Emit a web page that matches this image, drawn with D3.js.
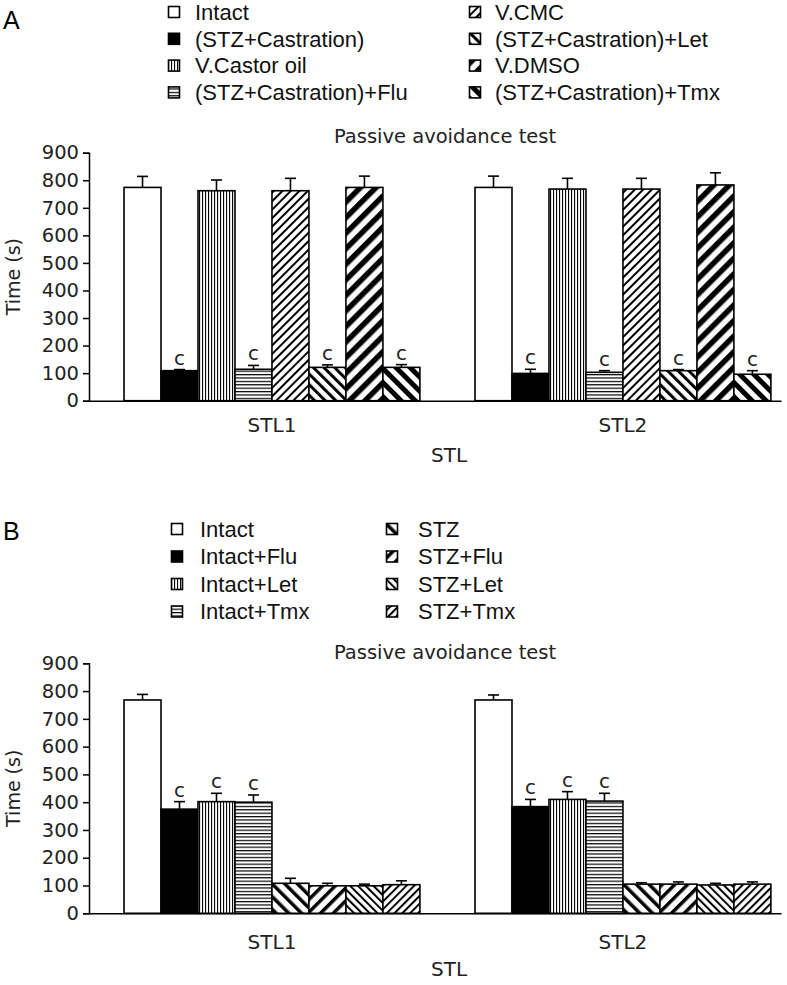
<!DOCTYPE html>
<html><head><meta charset="utf-8">
<script src="https://cdn.jsdelivr.net/npm/d3@7"></script>
<style>body{margin:0;background:#fff} svg{display:block}</style>
</head><body>
<svg id="chart" width="787" height="985"></svg>
<script>
// ---------------- DATA ----------------
const groups = ["STL1", "STL2"];
const yTicks = [0, 100, 200, 300, 400, 500, 600, 700, 800, 900];

const seriesA = ["Intact", "(STZ+Castration)", "V.Castor oil", "(STZ+Castration)+Flu",
                 "V.CMC", "(STZ+Castration)+Let", "V.DMSO", "(STZ+Castration)+Tmx"];
const meanA_STL1 = [774, 109, 762, 114, 762, 121, 774, 121];
const semA_STL1  = [40, 4, 39, 14, 45, 9, 41, 10];
const meanA_STL2 = [774, 99, 768, 103, 768, 109, 783, 96];
const semA_STL2  = [41, 15, 39, 6, 39, 4, 44, 13];
const sigA = ["", "c", "", "c", "", "c", "", "c"];

const seriesB = ["Intact", "Intact+Flu", "Intact+Let", "Intact+Tmx",
                 "STZ", "STZ+Flu", "STZ+Let", "STZ+Tmx"];
const meanB_STL1 = [768, 375, 402, 400, 108, 99, 99, 103];
const semB_STL1  = [20, 27, 30, 26, 18, 9, 6, 14];
const meanB_STL2 = [768, 384, 410, 404, 105, 105, 102, 105];
const semB_STL2  = [18, 26, 28, 28, 5, 8, 6, 8];
const sigB = ["", "c", "c", "c", "", "", "", ""];

// fill styles (kept separate from the data)
const fillsA = ["white", "black", "vert", "horiz", "upFine", "downMed", "upThick", "downThick"];
const fillsB = ["white", "black", "vert", "horiz", "downB", "upB", "downFineB", "upFineB"];

// ---------------- DRAW ----------------
const svg = d3.select("#chart");
svg.append("rect").attr("width", 787).attr("height", 985).attr("fill", "#fff");
const defs = svg.append("defs");

function stripe(id, period, lw, angle) {
  const p = defs.append("pattern").attr("id", id)
    .attr("patternUnits", "userSpaceOnUse")
    .attr("width", period).attr("height", period)
    .attr("patternTransform", `rotate(${angle})`);
  p.append("rect").attr("width", period).attr("height", period).attr("fill", "#fff");
  p.append("rect").attr("x", 0).attr("y", 0).attr("width", lw).attr("height", period).attr("fill", "#000");
}
stripe("vert", 3, 1.1, 0);
stripe("horiz", 3.4, 1.2, 90);
stripe("upFine", 6, 2, 45);
stripe("downMed", 7.5, 3, -45);
stripe("upThick", 11, 5.5, 45);
stripe("downThick", 10, 5, -45);
stripe("downB", 9, 3.5, -45);
stripe("upB", 9, 3.5, 45);
stripe("downFineB", 5.5, 2, -45);
stripe("upFineB", 5.5, 2, 45);

function fillOf(f) {
  if (f === "white") return "#fff";
  if (f === "black") return "#000";
  return `url(#${f})`;
}

const tickFont = "'DejaVu Sans', sans-serif";
const legFont = "'Liberation Sans', Arial, sans-serif";

function drawPanel(o) {
  const g = svg.append("g");
  const y = d3.scaleLinear().domain([0, 900]).range([o.y0, o.y900]);
  const x0 = d3.scaleBand().domain(groups).range([89, 781])
    .paddingInner(0.157).paddingOuter(0.0643).align(0.776);
  const x1 = d3.scaleBand().domain(o.series).range([0, x0.bandwidth()]);

  // panel letter
  g.append("text").attr("x", 3).attr("y", o.letterY).text(o.letter)
    .attr("font-family", legFont).attr("font-size", 25).attr("fill", "#000");

  // legend
  o.series.forEach((s, i) => {
    const col = i < 4 ? 0 : 1, row = i % 4;
    const cy = o.legY + row * o.legStep;
    g.append("rect").attr("x", o.legIconX[col] - 5.5).attr("y", cy - 5.5)
      .attr("width", 11).attr("height", 11)
      .attr("fill", fillOf(o.fills[i])).attr("stroke", "#000").attr("stroke-width", 1.6);
    g.append("text").attr("x", o.legTextX[col]).attr("y", cy + 7.8).text(s)
      .attr("font-family", legFont).attr("font-size", 22).attr("fill", "#111");
  });

  // title
  g.append("text").attr("x", 445).attr("y", o.titleY).attr("text-anchor", "middle")
    .text("Passive avoidance test").attr("font-family", tickFont).attr("font-size", 19.5).attr("fill", "#222");

  // y axis
  const ya = g.append("g").attr("transform", "translate(89,0)")
    .call(d3.axisLeft(y).tickValues(yTicks).tickSize(6).tickSizeOuter(6).tickPadding(4));
  ya.selectAll("path,line").attr("stroke", "#000").attr("stroke-width", 1.5);
  ya.selectAll("text").attr("font-family", tickFont).attr("font-size", 19.5).attr("fill", "#222");

  // y label
  g.append("text").attr("transform", `translate(20,${(o.y0 + o.y900) / 2}) rotate(-90)`)
    .attr("text-anchor", "middle").text("Time (s)")
    .attr("font-family", tickFont).attr("font-size", 19).attr("fill", "#222");

  // x axis
  const xa = g.append("g").attr("transform", `translate(0,${o.y0})`)
    .call(d3.axisBottom(x0).tickSize(0).tickSizeOuter(0).tickPadding(o.xPad));
  xa.select(".domain").attr("stroke", "#000").attr("stroke-width", 1.5);
  xa.selectAll("text").attr("font-family", tickFont).attr("font-size", 20).attr("fill", "#222");

  g.append("text").attr("x", 449).attr("y", o.stlY).attr("text-anchor", "middle").text("STL")
    .attr("font-family", tickFont).attr("font-size", 20).attr("fill", "#222");

  // bars
  groups.forEach((grp, gi) => {
    const means = o.means[gi], sems = o.sems[gi];
    const gg = g.append("g").attr("transform", `translate(${x0(grp)},0)`);
    o.series.forEach((s, i) => {
      const bx = x1(s), bw = x1.bandwidth();
      const top = y(means[i]), etop = y(means[i] + sems[i]);
      const cx = bx + bw / 2;
      gg.append("line").attr("x1", cx).attr("x2", cx).attr("y1", top).attr("y2", etop)
        .attr("stroke", "#000").attr("stroke-width", 1.6);
      gg.append("line").attr("x1", cx - 5.5).attr("x2", cx + 5.5).attr("y1", etop).attr("y2", etop)
        .attr("stroke", "#000").attr("stroke-width", 1.6);
      gg.append("rect").attr("x", bx).attr("y", top).attr("width", bw).attr("height", o.y0 - top)
        .attr("fill", fillOf(o.fills[i])).attr("stroke", "#000").attr("stroke-width", 1.6);
      if (o.sig[i]) {
        gg.append("text").attr("x", cx).attr("y", etop - 5).attr("text-anchor", "middle")
          .text(o.sig[i]).attr("font-family", tickFont).attr("font-size", 20).attr("fill", "#222");
      }
    });
  });
}

drawPanel({
  letter: "A", letterY: 29,
  series: seriesA, fills: fillsA, sig: sigA,
  means: [meanA_STL1, meanA_STL2], sems: [semA_STL1, semA_STL2],
  y0: 400.7, y900: 152.7,
  legY: 12, legStep: 26.8, legIconX: [174, 475], legTextX: [195, 495],
  titleY: 143, xPad: 17, stlY: 462
});

drawPanel({
  letter: "B", letterY: 540,
  series: seriesB, fills: fillsB, sig: sigB,
  means: [meanB_STL1, meanB_STL2], sems: [semB_STL1, semB_STL2],
  y0: 913.3, y900: 663.3,
  legY: 529, legStep: 27.5, legIconX: [177, 392], legTextX: [200, 418],
  titleY: 659, xPad: 22, stlY: 976
});
</script>
</body></html>
